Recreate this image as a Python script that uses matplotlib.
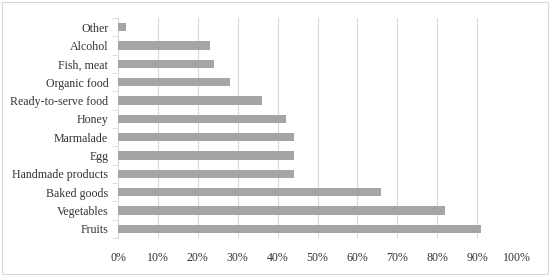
import matplotlib
matplotlib.use("Agg")
import matplotlib.pyplot as plt
import numpy as np
from matplotlib.ticker import FixedLocator, PercentFormatter

categories = ["Fruits", "Vegetables", "Baked goods", "Handmade products", "Egg",
              "Marmalade", "Honey", "Ready-to-serve food", "Organic food",
              "Fish, meat", "Alcohol", "Other"]
values = [91, 82, 66, 44, 44, 44, 42, 36, 28, 24, 23, 2]
xticks = list(range(0, 101, 10))

plt.rcParams["font.family"] = ["Liberation Serif", "DejaVu Serif"]

fig = plt.figure(figsize=(5.5, 2.76), dpi=100)
ax = fig.add_axes([118 / 550, 1 - 238 / 276, 399 / 550, 220 / 276])

y = np.arange(len(categories))
ax.barh(y, values, height=0.45, color="#a5a5a5", zorder=3)

ax.set_xlim(0, 100)
ax.set_ylim(-0.5, len(categories) - 0.5)
ax.set_xticks(xticks)
ax.xaxis.set_major_formatter(PercentFormatter(decimals=0))
ax.set_yticks(y)
ax.set_yticklabels(categories)
ax.yaxis.set_minor_locator(FixedLocator(np.arange(-0.5, len(categories), 1)))

ax.grid(axis="x", color="#d9d9d9", linewidth=0.8, zorder=0)
for s in ["top", "right", "bottom"]:
    ax.spines[s].set_visible(False)
ax.spines["left"].set_color("#d9d9d9")
ax.tick_params(axis="x", length=0, pad=10, labelsize=8.6, colors="#333333")
ax.tick_params(axis="y", which="major", length=0, pad=7, labelsize=8.6, colors="#333333")
ax.tick_params(axis="y", which="minor", length=4, color="#d9d9d9")

fig.patches.append(plt.Rectangle((0.004, 0.006), 0.992, 0.988, transform=fig.transFigure,
                                 fill=False, edgecolor="#d9d9d9", linewidth=0.8))

fig.savefig("out.png", dpi=100)
